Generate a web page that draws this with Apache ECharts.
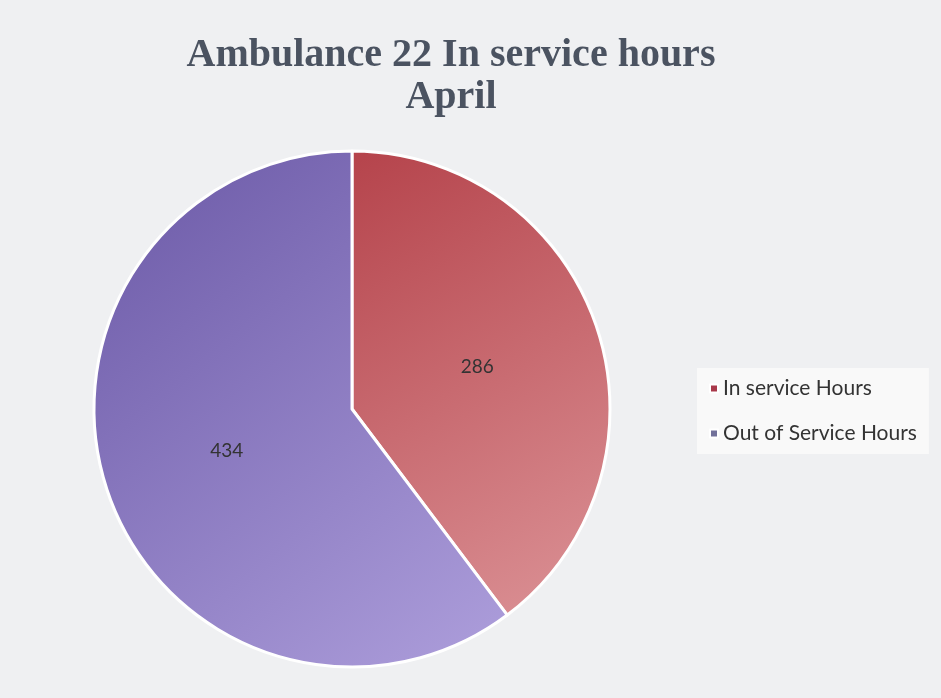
<!DOCTYPE html>
<html><head><meta charset="utf-8">
<script src="https://cdn.jsdelivr.net/npm/echarts@6/dist/echarts.min.js"></script>
<style>html,body{margin:0;padding:0;background:#eef0f2}#c{width:941px;height:698px}</style>
</head><body><div id="c"></div>
<script>
const titleLines = ['Ambulance 22 In service hours', 'April'];
const categories = ['In service Hours', 'Out of Service Hours'];
const values = [286, 434];

const colors = [
  new echarts.graphic.LinearGradient(0, 0, 1, 1, [{offset: 0, color: '#b5434b'}, {offset: 1, color: '#dc9397'}]),
  new echarts.graphic.LinearGradient(0, 0, 1, 1, [{offset: 0, color: '#6a58a6'}, {offset: 1, color: '#ae9fdc'}])
];
const legendColors = ['#a8384a', '#72719a'];

const chart = echarts.init(document.getElementById('c'));
chart.setOption({
  backgroundColor: '#eff0f2',
  title: {
    text: titleLines.join('\n'),
    left: 446, top: 30, textAlign: 'center',
    textStyle: {fontFamily: 'Liberation Serif', fontWeight: 'bold', fontSize: 40, color: '#4b5361', lineHeight: 42}
  },
  legend: {
    orient: 'vertical', left: 697, top: 368,
    itemWidth: 8, itemHeight: 8, itemGap: 24, icon: 'rect',
    padding: [10, 12, 10, 12],
    backgroundColor: 'rgba(250,250,250,0.85)',
    textStyle: {fontFamily: 'Lato', fontSize: 21, color: '#333'},
    data: categories.map((c, i) => ({name: c, itemStyle: {color: legendColors[i]}}))
  },
  series: [{
    type: 'pie', center: [352, 409], radius: 258, startAngle: 90, clockwise: true,
    itemStyle: {borderColor: '#ffffff', borderWidth: 3},
    label: {show: true, position: 'inside', formatter: '{c}', fontFamily: 'Lato', fontSize: 19, color: '#333'},
    labelLine: {show: false},
    emphasis: {disabled: true},
    animation: false,
    data: categories.map((c, i) => ({name: c, value: values[i], itemStyle: {color: colors[i]}}))
  }]
});
</script></body></html>
